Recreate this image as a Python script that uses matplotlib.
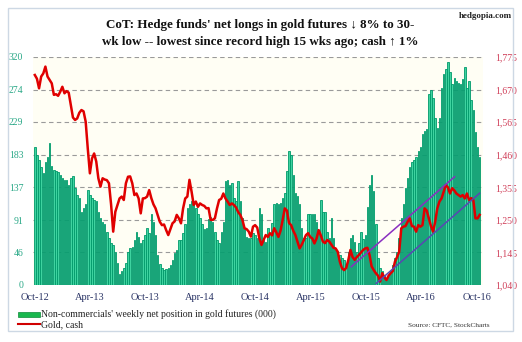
import matplotlib
matplotlib.use("Agg")
import matplotlib.pyplot as plt
from matplotlib.patches import Rectangle
from matplotlib.lines import Line2D
import pandas as pd

# ---------------- data ----------------
weeks = pd.date_range("2012-10-02", periods=211, freq="7D")

net_longs = [
    193, 183, 175, 165, 157, 172, 179, 200, 167, 162, 160, 158, 155, 150, 147, 148, 140, 150, 153, 136,
    127, 122, 103, 108, 113, 134, 127, 122, 120, 118, 103, 94, 89, 85, 75, 66, 59, 56, 47, 31,
    16, 19, 24, 31, 47, 52, 54, 63, 75, 68, 59, 63, 70,
    80, 73, 99, 89, 70, 42, 30, 24, 21, 22, 24, 28, 35, 45, 49, 63, 63, 73, 85, 108, 113, 118, 115, 108,
    99, 94, 85, 78, 80, 92, 96, 89, 75, 63, 59, 75, 89, 146, 148, 141, 143, 122, 118, 146, 118, 94, 80,
    68, 66, 66, 73,
    70, 66, 108, 99, 63, 61, 80, 73, 87, 113, 115, 113, 115, 122, 129, 160, 188, 183, 155, 129, 125,
    113, 80, 66, 66, 99, 99, 99, 99, 89, 75, 120, 103, 103, 75, 66, 94, 66, 52, 47, 42, 38, 35, 30,
    47, 66, 70, 61, 47, 59, 75, 65,
    70, 110, 141, 155, 132, 85, 38, 24, 19, 14, 9, 12, 19, 28, 38, 47, 66, 94, 113, 136, 150, 165,
    172, 176, 179, 188, 193, 212, 216, 219, 268, 273, 263, 235, 221, 235, 277, 296, 303, 313, 299,
    282, 291, 287, 284, 282, 289, 306, 277, 287, 260, 246, 215, 194, 179,
]

gold = [
    1717, 1705, 1674, 1712, 1722, 1744, 1712, 1701, 1690, 1653, 1655, 1650, 1663, 1679, 1658, 1665,
    1660, 1620, 1580, 1572, 1577, 1595, 1604, 1600, 1567, 1480, 1400, 1448, 1464, 1438, 1384, 1357,
    1384, 1380, 1378, 1368, 1300, 1212, 1276, 1298, 1319, 1325, 1314, 1368, 1389, 1390, 1368, 1330,
    1335, 1319, 1271, 1319, 1320,
    1325, 1346, 1320, 1300, 1287, 1266, 1244, 1233, 1235, 1217, 1201, 1220, 1239, 1245, 1266, 1255,
    1239, 1287, 1319, 1325, 1379, 1341, 1298, 1309, 1292, 1303, 1298, 1295, 1287, 1288, 1250, 1250,
    1255, 1287, 1314, 1318, 1335, 1319, 1309, 1298, 1303, 1298, 1290, 1275, 1266, 1250, 1223, 1220,
    1212, 1196, 1228,
    1233, 1225, 1190, 1169, 1185, 1201, 1195, 1207, 1200, 1223, 1210, 1195, 1215, 1250, 1287, 1280,
    1240, 1233, 1215, 1201, 1180, 1158, 1170, 1185, 1201, 1207, 1195, 1190, 1174, 1190, 1217, 1200,
    1180, 1175, 1185, 1180, 1170, 1160, 1158, 1147, 1115, 1094, 1088, 1095, 1121, 1153, 1130, 1121,
    1130, 1137, 1145, 1153,
    1158, 1160, 1137, 1100, 1088, 1078, 1070, 1051, 1078, 1065, 1056, 1070, 1078, 1085, 1115, 1130,
    1147, 1223, 1228, 1230, 1244, 1255, 1230, 1228, 1212, 1233, 1228, 1233, 1287, 1280, 1255, 1230,
    1212, 1244, 1287, 1309, 1319, 1341, 1362, 1355, 1335, 1352, 1345, 1335, 1330, 1325, 1330, 1319,
    1335, 1314, 1320, 1314, 1255, 1255, 1266,
]

# channel (trend) lines on the gold scale
channel_upper_dates = ["2015-08-14", "2016-07-20"]
channel_upper_vals = [1099, 1389]
channel_lower_dates = ["2015-11-04", "2016-10-11"]
channel_lower_vals = [1045, 1336]

left_ticks = [0, 46, 91, 137, 183, 229, 274, 320]
right_ticks = [1040, 1145, 1250, 1355, 1460, 1565, 1670, 1775]
x_tick_dates = ["2012-10-01", "2013-04-01", "2013-10-01", "2014-04-01", "2014-10-01",
                "2015-04-01", "2015-10-01", "2016-04-01", "2016-10-01"]
x_tick_labels = ["Oct-12", "Apr-13", "Oct-13", "Apr-14", "Oct-14",
                 "Apr-15", "Oct-15", "Apr-16", "Oct-16"]

title = ("CoT: Hedge funds' net longs in gold futures \u2193 8% to 30-\n"
         "wk low -- lowest since record high 15 wks ago; cash \u2191 1%")

# ---------------- figure ----------------
W, H = 522, 342
fig = plt.figure(figsize=(W / 100, H / 100), dpi=100)
fig.patch.set_facecolor("white")

serif = ["Liberation Serif", "DejaVu Serif"]

# outer border
fig.add_artist(Rectangle((8 / W, 1 - 331 / H), (513 - 8) / W, (331 - 8) / H,
                         transform=fig.transFigure, fill=False,
                         edgecolor="#cdd8e4", linewidth=1.0))

ax_l, ax_r, ax_t, ax_b = 33, 483, 57, 285
ax = fig.add_axes([ax_l / W, 1 - ax_b / H, (ax_r - ax_l) / W, (ax_b - ax_t) / H])
ax.set_facecolor("#fffef4")

ax.bar(weeks, net_longs, width=4.8, color="#3fd3a0", edgecolor="#00996a",
       linewidth=0.6, zorder=2)
ax.set_ylim(0, 320)
ax.set_yticks(left_ticks)
ax.set_yticklabels([f"{v}" for v in left_ticks], fontfamily=serif, fontsize=7,
                   color="#2aa887")
xlim = (pd.Timestamp("2012-09-26"), pd.Timestamp("2016-10-22"))
ax.set_xlim(xlim)
ax.set_xticks(pd.to_datetime(x_tick_dates))
ax.set_xticklabels(x_tick_labels, fontfamily=serif, fontsize=7.5, color="#2b3566")
ax.tick_params(axis="x", length=0, pad=6)
ax.tick_params(axis="y", length=0, pad=7)
for ytk in left_ticks[1:]:
    ax.axhline(ytk, color="#9a9a9a", linestyle=(0, (4, 3)), linewidth=0.8, zorder=1)
for s in ax.spines.values():
    s.set_visible(False)

ax2 = ax.twinx()
ax2.plot(weeks, gold, color="#e00000", linewidth=1.8, zorder=3)
ax2.plot(pd.to_datetime(channel_upper_dates), channel_upper_vals, color="#8a2fc0",
         linewidth=1.1, zorder=4)
ax2.plot(pd.to_datetime(channel_lower_dates), channel_lower_vals, color="#5a46b4",
         linewidth=1.1, zorder=4)
ax2.set_ylim(1040, 1775)
ax2.set_yticks(right_ticks)
ax2.set_yticklabels([f"{v:,}" for v in right_ticks], fontfamily=serif, fontsize=7,
                    color="#d0405a")
ax2.tick_params(axis="y", length=0, pad=9)
ax2.set_xlim(xlim)
for s in ax2.spines.values():
    s.set_visible(False)

# title and branding
fig.text(260 / W, 1 - 33.5 / H, title, ha="center", va="center", fontfamily=serif,
         fontweight="bold", fontsize=9.4, linespacing=1.45, color="#111111")
fig.text(512 / W, 1 - 16 / H, "hedgopia.com", ha="right", va="center",
         fontfamily=serif, fontweight="bold", fontsize=6.5, color="#222222")

# legend
fig.add_artist(Rectangle((18 / W, 1 - 316.5 / H), 22 / W, 5 / H,
                         transform=fig.transFigure, facecolor="#19b84e",
                         edgecolor="#0c8a38", linewidth=0.5))
fig.add_artist(Line2D([18 / W, 40 / W], [1 - 324 / H, 1 - 324 / H],
                      transform=fig.transFigure, color="#d00000", linewidth=1.5))
fig.text(41 / W, 1 - 314 / H,
         "Non-commercials' weekly net position in gold futures (000)",
         ha="left", va="center", fontfamily=serif, fontsize=7, color="#222222")
fig.text(41 / W, 1 - 325 / H, "Gold, cash", ha="left", va="center",
         fontfamily=serif, fontsize=7, color="#222222")
fig.text(490 / W, 1 - 325 / H, "Source: CFTC, StockCharts", ha="right", va="center",
         fontfamily=serif, fontsize=5.2, color="#333333")

fig.savefig("out.png", dpi=100, facecolor="white")
